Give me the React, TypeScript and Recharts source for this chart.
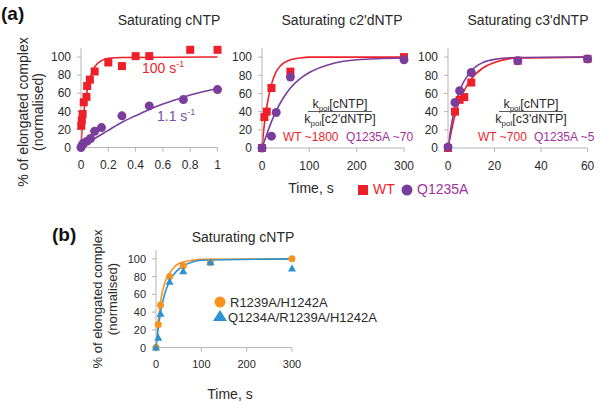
import React from 'react'
import { ComposedChart, Line, Scatter, XAxis, YAxis } from 'recharts'

type Pt = { x: number; y: number }
const zip = (xs: number[], ys: number[]): Pt[] => xs.map((x, i) => ({ x, y: ys[i] }))

// panel (a) saturating cNTP, time in s
const a1WtTime = [0.002, 0.006, 0.012, 0.02, 0.04, 0.045, 0.065, 0.1, 0.2, 0.3, 0.4, 0.5, 0.8, 1.0]
const a1WtPct = [24, 30, 37, 50, 56, 68, 75, 84, 94, 90, 101, 101, 108, 108]
const a1QTime = [0, 0.01, 0.02, 0.045, 0.07, 0.1, 0.15, 0.3, 0.5, 0.75, 1.0]
const a1QPct = [0, 3, 5, 7, 10, 18, 22, 35, 46, 53, 64]
const a1WtFitTime = [0, 0.01, 0.02, 0.03, 0.05, 0.07, 0.1, 0.15, 0.2, 0.3, 1.0]
const a1WtFitPct = [0, 24, 38, 50, 66, 78, 89, 96, 98.5, 99.5, 100]
const a1QFitTime = [0, 0.1, 0.2, 0.3, 0.4, 0.5, 0.6, 0.7, 0.8, 0.9, 1.0]
const a1QFitPct = [0, 10, 19, 28, 35, 42, 48, 53, 58, 62, 65]

// panel (a) saturating c2'dNTP
const a2WtTime = [0, 5, 10, 20, 60, 300]
const a2WtPct = [0, 34, 40, 66, 84, 100]
const a2QTime = [0, 20, 30, 60, 300]
const a2QPct = [0, 13, 39, 78, 97]
const a2WtFitTime = [0, 5, 10, 20, 30, 40, 60, 80, 100, 300]
const a2WtFitPct = [0, 26, 45, 70, 84, 91, 97, 99, 100, 100]
const a2QFitTime = [0, 10, 20, 30, 45, 60, 80, 100, 150, 200, 300]
const a2QFitPct = [0, 15, 29, 41, 55, 66, 76, 83, 93, 97, 99]

// panel (a) saturating c3'dNTP
const a3WtTime = [0, 3, 5, 7, 10, 30, 60]
const a3WtPct = [0, 40, 53, 56, 72, 96, 98]
const a3QTime = [0, 3, 5, 10, 30, 60]
const a3QPct = [1, 50, 63, 83, 96, 98]
const a3FitTime = [0, 2, 4, 6, 8, 10, 15, 20, 30, 60]
const a3WtFitPct = [0, 25, 45, 58, 68, 76, 88, 94, 99, 100]
const a3QFitPct = [0, 33, 55, 69, 78, 85, 94, 97.5, 99.5, 100]

// panel (b) saturating cNTP
const bTime = [0, 5, 10, 30, 60, 120, 300]
const bDoublePct = [0, 26, 48, 80, 92, 96, 100]
const bTriplePct = [0, 11, 38, 74, 86, 96, 89]
const bFitTime = [0, 5, 10, 20, 30, 45, 60, 80, 100, 300]
const bDoubleFitPct = [0, 30, 52, 74, 84, 93, 96.5, 98.5, 99.5, 100]
const bTripleFitPct = [0, 22, 40, 62, 75, 86, 92, 96.5, 98.5, 100]

const yTicks = [0, 20, 40, 60, 80, 100]
const a1Ticks = [0, 0.2, 0.4, 0.6, 0.8, 1]
const a2Ticks = [0, 100, 200, 300]
const a3Ticks = [0, 20, 40, 60]
const bTicks = [0, 100, 200, 300]

const RED = '#ee1f2b'
const PURPLE = '#7a3d9c'
const MAGENTA = '#a0319e'
const ORANGE = '#f7931e'
const BLUE = '#2c93d1'
const INK = '#2a2a2a'
const FONT = '"Liberation Sans", Arial, Helvetica, sans-serif'

type Shape = 'square' | 'circle' | 'triangle'
type Series = { pts: Pt[]; fit: Pt[]; color: string; shape: Shape; size: number }

const marker = (shape: Shape, color: string, size: number) => (p: any) => {
  const { cx, cy } = p
  if (shape === 'square') return <rect x={cx - size / 2} y={cy - size / 2} width={size} height={size} fill={color} />
  if (shape === 'triangle') {
    const h = size * 0.9
    return <polygon points={`${cx},${cy - h * 0.6} ${cx - size / 2},${cy + h * 0.4} ${cx + size / 2},${cy + h * 0.4}`} fill={color} />
  }
  return <circle cx={cx} cy={cy} r={size / 2} fill={color} />
}

type Box = { x: number; y: number; w: number; h: number }

function Panel({ box, xDomain, xTicks, series, fontSize }: { box: Box; xDomain: number[]; xTicks: number[]; series: Series[]; fontSize: number }) {
  const ml = 48, mt = 10, mr = 16, xh = 32
  const tick = { fill: INK, fontSize, fontFamily: FONT }
  return (
    <div style={{ position: 'absolute', left: box.x - ml, top: box.y - mt }}>
      <ComposedChart width={box.w + ml + mr} height={box.h + mt + xh} margin={{ top: mt, right: mr, bottom: 0, left: 0 }}>
        <XAxis type="number" dataKey="x" domain={xDomain} ticks={xTicks} interval={0} height={xh}
          stroke="#b4b4b4" tickSize={4} tickMargin={9} tick={tick} />
        <YAxis type="number" dataKey="y" domain={[0, 110]} ticks={yTicks} interval={0} width={ml}
          stroke="#b4b4b4" tickSize={4} tickMargin={6} tick={tick} />
        {series.map((s, i) => (
          <Line key={'f' + i} data={s.fit} dataKey="y" type="monotone" stroke={s.color} strokeWidth={1.6}
            dot={false} activeDot={false} isAnimationActive={false} />
        ))}
        {series.map((s, i) => (
          <Scatter key={'s' + i} data={s.pts} dataKey="y" shape={marker(s.shape, s.color, s.size)} isAnimationActive={false} />
        ))}
      </ComposedChart>
    </div>
  )
}

function Frac({ cx, den }: { cx: number; den: string }) {
  return (
    <g fontSize={12.5} fill={INK} textAnchor="middle">
      <text x={cx} y={108}>k<tspan fontSize={8} dy={3}>pol</tspan><tspan dy={-3}>[cNTP]</tspan></text>
      <line x1={cx - 32} x2={cx + 32} y1={111.5} y2={111.5} stroke="#333" strokeWidth={0.8} />
      <text x={cx} y={123}>k<tspan fontSize={8} dy={3}>pol</tspan><tspan dy={-3}>{den}</tspan></text>
    </g>
  )
}

export default function App() {
  const a1: Series[] = [
    { pts: zip(a1WtTime, a1WtPct), fit: zip(a1WtFitTime, a1WtFitPct), color: RED, shape: 'square', size: 8 },
    { pts: zip(a1QTime, a1QPct), fit: zip(a1QFitTime, a1QFitPct), color: PURPLE, shape: 'circle', size: 9 },
  ]
  const a2: Series[] = [
    { pts: zip(a2WtTime, a2WtPct), fit: zip(a2WtFitTime, a2WtFitPct), color: RED, shape: 'square', size: 8 },
    { pts: zip(a2QTime, a2QPct), fit: zip(a2QFitTime, a2QFitPct), color: PURPLE, shape: 'circle', size: 9 },
  ]
  const a3: Series[] = [
    { pts: zip(a3WtTime, a3WtPct), fit: zip(a3FitTime, a3WtFitPct), color: RED, shape: 'square', size: 8 },
    { pts: zip(a3QTime, a3QPct), fit: zip(a3FitTime, a3QFitPct), color: PURPLE, shape: 'circle', size: 9 },
  ]
  const b: Series[] = [
    { pts: zip(bTime, bDoublePct), fit: zip(bFitTime, bDoubleFitPct), color: ORANGE, shape: 'circle', size: 7 },
    { pts: zip(bTime, bTriplePct), fit: zip(bFitTime, bTripleFitPct), color: BLUE, shape: 'triangle', size: 8 },
  ]

  return (
    <div style={{ position: 'absolute', left: 0, top: 0, width: 600, height: 403, background: '#fff', fontFamily: FONT, overflow: 'hidden' }}>
      <Panel box={{ x: 80.5, y: 47.5, w: 136.5, h: 99.5 }} xDomain={[0, 1]} xTicks={a1Ticks} series={a1} fontSize={12} />
      <Panel box={{ x: 262, y: 47.5, w: 142, h: 100 }} xDomain={[0, 300]} xTicks={a2Ticks} series={a2} fontSize={12} />
      <Panel box={{ x: 447.7, y: 47.7, w: 139.6, h: 100 }} xDomain={[0, 60]} xTicks={a3Ticks} series={a3} fontSize={12} />
      <Panel box={{ x: 155.7, y: 250.4, w: 136, h: 97.6 }} xDomain={[0, 300]} xTicks={bTicks} series={b} fontSize={11} />

      <svg width={600} height={403} style={{ position: 'absolute', left: 0, top: 0, pointerEvents: 'none' }} fontFamily={FONT}>
        <text x={1} y={20} fontSize={19} fontWeight="bold" fill="#111">(a)</text>
        <g fontSize={14} fill={INK} textAnchor="middle">
          <text x={169} y={25}>Saturating cNTP</text>
          <text x={342} y={25}>Saturating c2'dNTP</text>
          <text x={528} y={25}>Saturating c3'dNTP</text>
          <text transform="translate(28,112) rotate(-90)">% of elongated complex</text>
          <text transform="translate(43,112) rotate(-90)">(normalised)</text>
          <text x={311} y={193}>Time, s</text>
        </g>
        <text x={142} y={73} fontSize={14} fill={RED}>100 s<tspan fontSize={9} dy={-6}>-1</tspan></text>
        <text x={157} y={121} fontSize={14} fill="#7b4fa8">1.1 s<tspan fontSize={9} dy={-6}>-1</tspan></text>

        <Frac cx={340} den="[c2'dNTP]" />
        <text x={283} y={141} fontSize={12} fill={RED}>WT ~1800</text>
        <text x={346} y={141} fontSize={12} fill={MAGENTA}>Q1235A ~70</text>
        <Frac cx={531} den="[c3'dNTP]" />
        <text x={478} y={141} fontSize={12} fill={RED}>WT ~700</text>
        <text x={534} y={141} fontSize={12} fill={MAGENTA}>Q1235A ~5</text>

        <rect x={358} y={185} width={10} height={10} fill={RED} />
        <text x={373} y={194} fontSize={14} fill={RED}>WT</text>
        <circle cx={407} cy={190} r={5.5} fill={PURPLE} />
        <text x={417} y={194} fontSize={14} fill={MAGENTA}>Q1235A</text>

        <text x={52} y={241} fontSize={19} fontWeight="bold" fill="#111">(b)</text>
        <g fontSize={13} fill={INK} textAnchor="middle">
          <text x={243} y={242} fontSize={14}>Saturating cNTP</text>
          <text transform="translate(102,299) rotate(-90)">% of elongated complex</text>
          <text transform="translate(117,299) rotate(-90)">(normalised)</text>
          <text x={230} y={399} fontSize={14}>Time, s</text>
        </g>
        <circle cx={220} cy={302} r={5.5} fill={ORANGE} />
        <text x={230} y={306.5} fontSize={13} fill={INK}>R1239A/H1242A</text>
        <polygon points="220,310 213,321 227,321" fill={BLUE} />
        <text x={228} y={322} fontSize={13} fill={INK}>Q1234A/R1239A/H1242A</text>
      </svg>
    </div>
  )
}
